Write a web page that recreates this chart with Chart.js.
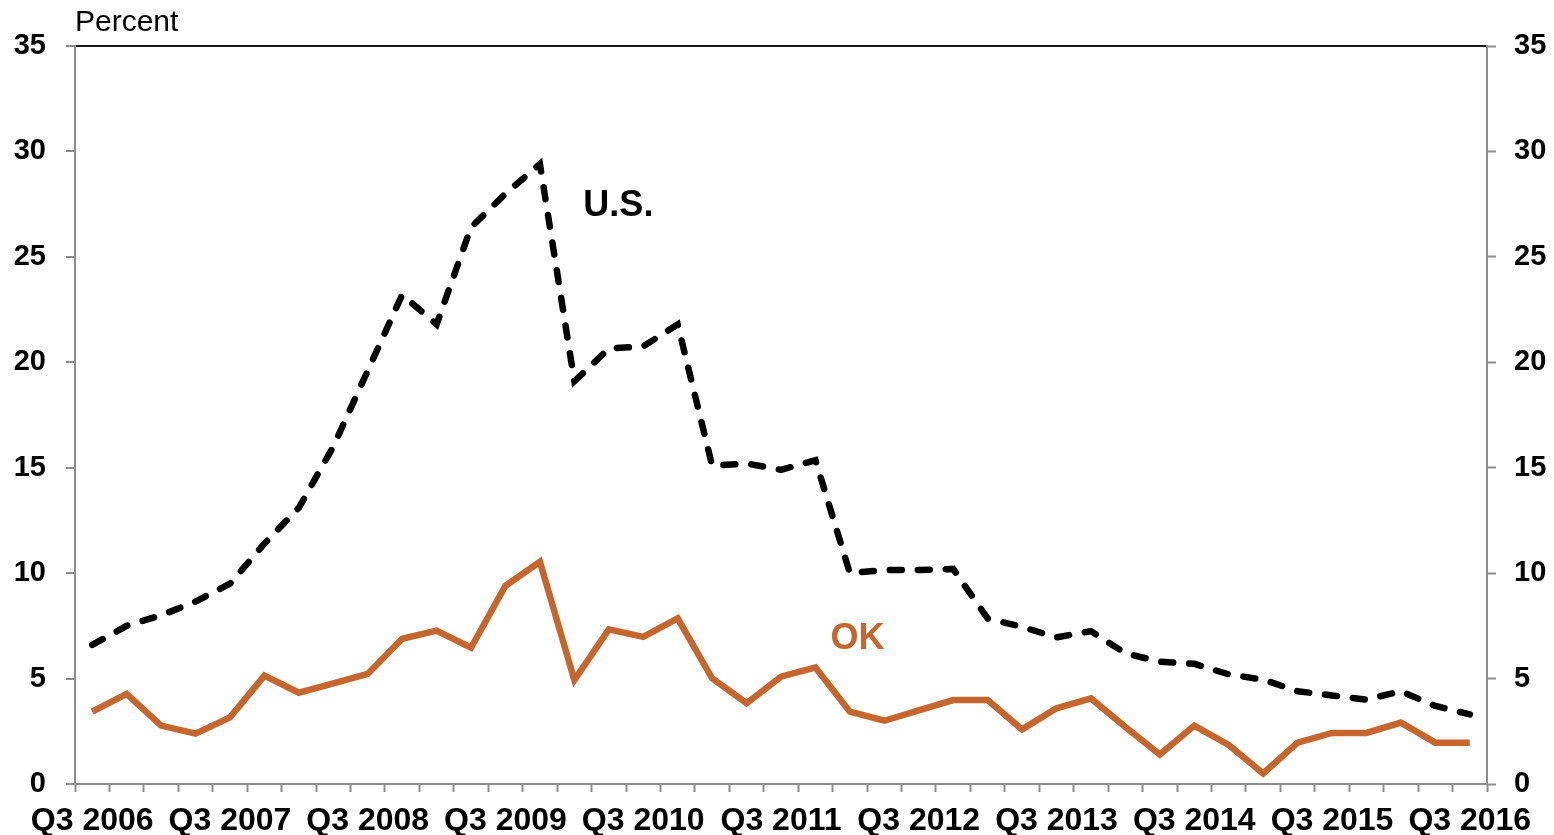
<!DOCTYPE html>
<html>
<head>
  <title>Percent: U.S. vs OK</title>
  <script src="https://cdn.jsdelivr.net/npm/chart.js"></script>
  <style>
    body { margin: 0; background: #fff; }
    #wrap { width: 1554px; height: 835px; }
  </style>
</head>
<body>
  <div id="wrap">
    <canvas id="rateChart" width="1554" height="835"></canvas>
  </div>

  <script>
    // quarterly categories, Q3 2006 .. Q3 2016
    const quarters = [
      'Q3 2006', 'Q4 2006', 'Q1 2007', 'Q2 2007', 'Q3 2007', 'Q4 2007', 'Q1 2008', 'Q2 2008',
      'Q3 2008', 'Q4 2008', 'Q1 2009', 'Q2 2009', 'Q3 2009', 'Q4 2009', 'Q1 2010', 'Q2 2010',
      'Q3 2010', 'Q4 2010', 'Q1 2011', 'Q2 2011', 'Q3 2011', 'Q4 2011', 'Q1 2012', 'Q2 2012',
      'Q3 2012', 'Q4 2012', 'Q1 2013', 'Q2 2013', 'Q3 2013', 'Q4 2013', 'Q1 2014', 'Q2 2014',
      'Q3 2014', 'Q4 2014', 'Q1 2015', 'Q2 2015', 'Q3 2015', 'Q4 2015', 'Q1 2016', 'Q2 2016',
      'Q3 2016'
    ];

    const usRate = [
      6.6, 7.5, 8.0, 8.65, 9.5, 11.4, 13.1, 16.0, 19.6, 23.2, 21.8, 26.4, 28.0, 29.4,
      19.1, 20.65, 20.75, 21.8, 15.1, 15.2, 14.9, 15.35, 10.0, 10.15, 10.15, 10.2, 7.85,
      7.45, 6.95, 7.25, 6.2, 5.8, 5.7, 5.2, 4.95, 4.4, 4.2, 4.0, 4.4, 3.7, 3.3
    ];

    const okRate = [
      3.43, 4.27, 2.77, 2.39, 3.16, 5.14, 4.33, 4.77, 5.22, 6.89, 7.27, 6.46, 9.4, 10.54,
      4.93, 7.33, 6.98, 7.86, 5.01, 3.83, 5.09, 5.53, 3.43, 3.0, 3.49, 3.98, 3.98, 2.59,
      3.59, 4.06, 2.7, 1.4, 2.77, 1.85, 0.5, 1.96, 2.42, 2.42, 2.91, 1.96, 1.96
    ];

    const yTicks = [0, 5, 10, 15, 20, 25, 30, 35];

    const axisGray = '#8c8c8c';
    const okColor = '#c6662f';
    const font = 'Liberation Sans, Arial, sans-serif';

    // "Percent" caption and the two series labels
    const textPlugin = {
      id: 'chartText',
      afterDraw(chart) {
        const ctx = chart.ctx;
        const x = chart.scales.x;
        const y = chart.scales.y;
        ctx.save();
        ctx.textBaseline = 'middle';
        ctx.textAlign = 'left';
        ctx.fillStyle = '#000';
        ctx.font = '30px ' + font;
        ctx.fillText('Percent', chart.chartArea.left, 23);
        ctx.font = 'bold 36px ' + font;
        ctx.fillText('U.S.', x.getPixelForValue(14) + 9, y.getPixelForValue(27.4));
        ctx.fillStyle = okColor;
        ctx.fillText('OK', x.getPixelForValue(21) + 15, y.getPixelForValue(6.85));
        ctx.restore();
      }
    };

    new Chart(document.getElementById('rateChart'), {
      type: 'line',
      data: {
        labels: quarters,
        datasets: [
          {
            label: 'U.S.',
            data: usRate,
            borderColor: '#000',
            borderWidth: 6.5,
            borderDash: [12, 16],
            borderCapStyle: 'round',
            pointRadius: 0,
            tension: 0,
            yAxisID: 'y'
          },
          {
            label: 'OK',
            data: okRate,
            borderColor: okColor,
            borderWidth: 6.5,
            pointRadius: 0,
            tension: 0,
            yAxisID: 'y'
          }
        ]
      },
      options: {
        responsive: false,
        animation: false,
        layout: { padding: { top: 46, left: 0, right: 0, bottom: 0 } },
        plugins: {
          legend: { display: false },
          tooltip: { enabled: false }
        },
        scales: {
          x: {
            offset: true,
            grid: {
              offset: true,
              drawOnChartArea: false,
              drawTicks: true,
              tickLength: 8,
              tickWidth: 2,
              tickColor: axisGray
            },
            border: { color: axisGray, width: 2 },
            ticks: {
              autoSkip: false,
              maxRotation: 0,
              padding: 10,
              color: '#000',
              font: { family: font, size: 32, weight: 'bold' },
              callback: (v, i) => (i % 4 === 0 ? quarters[i] : '')
            },
            afterFit: s => { s.height = 51; }
          },
          y: {
            position: 'left',
            min: 0,
            max: 35,
            afterBuildTicks: s => { s.ticks = yTicks.map(v => ({ value: v })); },
            grid: {
              color: c => (c.tick && c.tick.value === 35 ? '#1a1a1a' : 'rgba(0,0,0,0)'),
              lineWidth: 2,
              tickColor: axisGray,
              tickLength: 9,
              tickWidth: 2
            },
            border: { color: axisGray, width: 2 },
            ticks: {
              padding: 20,
              color: '#000',
              font: { family: font, size: 29, weight: 'bold' }
            },
            afterFit: s => { s.width = 75; }
          },
          y2: {
            position: 'right',
            min: 0,
            max: 35,
            afterBuildTicks: s => { s.ticks = yTicks.map(v => ({ value: v })); },
            grid: {
              drawOnChartArea: false,
              tickColor: axisGray,
              tickLength: 9,
              tickWidth: 2
            },
            border: { color: axisGray, width: 2 },
            ticks: {
              padding: 18,
              color: '#000',
              font: { family: font, size: 29, weight: 'bold' }
            },
            afterFit: s => { s.width = 67; }
          }
        }
      },
      plugins: [textPlugin]
    });
  </script>
</body>
</html>
